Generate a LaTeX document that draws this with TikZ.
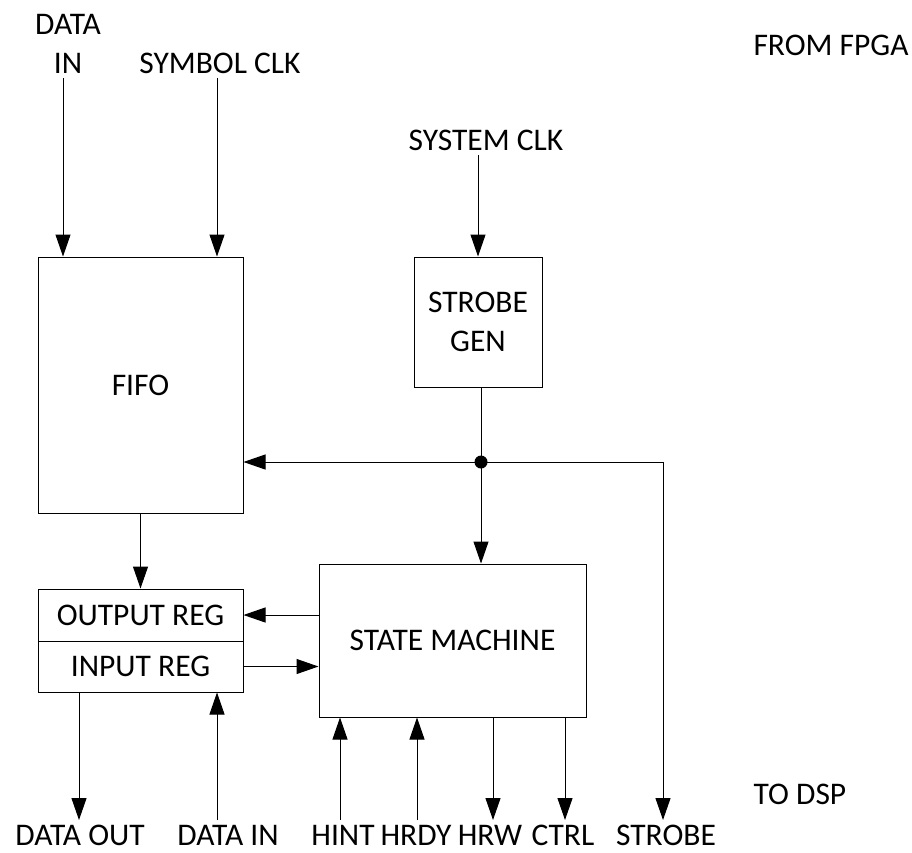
\documentclass[tikz,border=0pt]{standalone}
\usepackage{fontspec}
\setmainfont{Carlito}
\usetikzlibrary{arrows.meta}

\newcommand{\lblfont}{\fontsize{31.5}{39}\selectfont}
\tikzset{
  blk/.style={draw, line width=1pt, inner sep=0pt, align=center, font=\lblfont},
  lbl/.style={inner sep=0pt, anchor=base, font=\lblfont},
  arr/.style={line width=1pt, -{Triangle[length=22pt,width=15pt]}},
}

\begin{document}
\begin{tikzpicture}[x=1pt,y=-1pt]
        \useasboundingbox (0,0) rectangle (912,852);
        % blocks
        \node[blk, minimum width=205, minimum height=256] (fifo) at (140.5,385) {FIFO};
        \node[blk, minimum width=128, minimum height=130] (strobegen) at (478,322) {STROBE\\GEN};
        \node[blk, minimum width=205, minimum height=52] (outreg) at (140.5,615) {OUTPUT REG};
        \node[blk, minimum width=205, minimum height=51] (inreg) at (140.5,666.5) {INPUT REG};
        \node[blk, minimum width=267, minimum height=153] (sm) at (452.5,640.5) {STATE MACHINE};
        \coordinate (dot) at (481,462);
        % labels
        \node[lbl, anchor=center, align=center] (tdin) at (68,44) {DATA\\IN};
        \node[lbl] (tsym) at (220,73) {SYMBOL CLK};
        \node[lbl] (tsys) at (486,150) {SYSTEM CLK};
        \node[lbl] (fpga) at (831,55) {FROM FPGA};
        \node[lbl] (dsp) at (800,804) {TO DSP};
        \foreach \nm/\x/\txt in {dout/80/DATA OUT,din/228/DATA IN,hint/343/HINT,hrdy/416/HRDY,
            hrw/490/HRW,ctrl/563/CTRL,strb/666/STROBE} {
            \node[lbl] (\nm) at (\x,845) {\txt};
          }
        % free ends
        \foreach \nm/\x/\y in {ptdin/63/78,ptsym/217/78,ptsys/478/155,pdout/79/820,pdin/217/820,
            phint/340/820,phrdy/417/820,phrw/493/820,pctrl/565/820,pstrb/663/820} {
            \coordinate (\nm) at (\x,\y);
          }
        % inputs from FPGA
        \draw[arr] (ptdin) -- (ptdin |- fifo.north);
        \draw[arr] (ptsym) -- (ptsym |- fifo.north);
        \draw[arr] (ptsys) -- (strobegen.north);
        % strobe distribution
        \draw[line width=1pt] (dot |- strobegen.south) -- (dot);
        \draw[arr] (dot) -- (dot -| fifo.east);
        \draw[arr] (dot) -- (dot |- sm.north);
        \draw[arr] (dot) -| (pstrb);
        \fill (dot) circle (6.5pt);
        % internal
        \draw[arr] (fifo.south) -- (outreg.north);
        \draw[arr] (sm.west |- outreg) -- (outreg.east);
        \draw[arr] (inreg.east) -- (inreg.east -| sm.west);
        % to DSP
        \draw[arr] (pdout |- inreg.south) -- (pdout);
        \draw[arr] (pdin) -- (pdin |- inreg.south);
        \draw[arr] (phint) -- (phint |- sm.south);
        \draw[arr] (phrdy) -- (phrdy |- sm.south);
        \draw[arr] (phrw |- sm.south) -- (phrw);
        \draw[arr] (pctrl |- sm.south) -- (pctrl);
      \end{tikzpicture}
\end{document}
